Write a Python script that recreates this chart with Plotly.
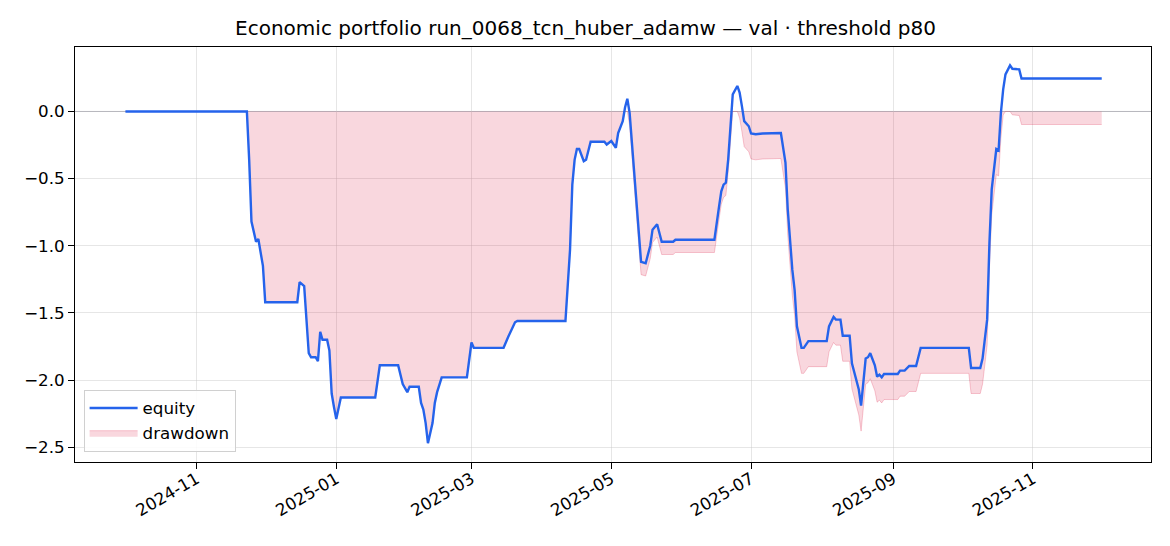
import numpy as np
import plotly.graph_objects as go

dates = [
    "2024-10-01", "2024-11-23", "2024-11-24", "2024-11-25", "2024-11-27", "2024-11-28",
    "2024-11-30", "2024-12-01", "2024-12-15", "2024-12-16", "2024-12-18", "2024-12-19",
    "2024-12-20", "2024-12-21", "2024-12-23", "2024-12-24", "2024-12-25", "2024-12-26",
    "2024-12-28", "2024-12-29", "2024-12-30", "2024-12-31", "2025-01-01", "2025-01-03",
    "2025-01-18", "2025-01-20", "2025-01-28", "2025-01-30", "2025-02-01", "2025-02-02",
    "2025-02-06", "2025-02-07", "2025-02-08", "2025-02-09", "2025-02-10", "2025-02-12",
    "2025-02-13", "2025-02-14", "2025-02-16", "2025-02-27", "2025-02-28", "2025-03-01",
    "2025-03-02", "2025-03-15", "2025-03-17", "2025-03-20", "2025-03-21", "2025-04-11",
    "2025-04-13", "2025-04-14", "2025-04-15", "2025-04-16", "2025-04-17", "2025-04-19",
    "2025-04-20", "2025-04-22", "2025-04-28", "2025-04-29", "2025-05-01", "2025-05-03",
    "2025-05-04", "2025-05-06", "2025-05-07", "2025-05-08", "2025-05-09", "2025-05-11",
    "2025-05-13", "2025-05-14", "2025-05-16", "2025-05-17", "2025-05-18", "2025-05-19",
    "2025-05-21", "2025-05-23", "2025-05-28", "2025-05-29", "2025-06-15", "2025-06-17",
    "2025-06-18", "2025-06-19", "2025-06-20", "2025-06-21", "2025-06-22", "2025-06-23",
    "2025-06-25", "2025-06-26", "2025-06-27", "2025-06-28", "2025-06-30", "2025-07-01",
    "2025-07-03", "2025-07-06", "2025-07-14", "2025-07-16", "2025-07-17", "2025-07-19",
    "2025-07-20", "2025-07-21", "2025-07-23", "2025-07-24", "2025-07-26", "2025-08-03",
    "2025-08-04", "2025-08-05", "2025-08-06", "2025-08-07", "2025-08-09", "2025-08-10",
    "2025-08-13", "2025-08-14", "2025-08-16", "2025-08-17", "2025-08-18", "2025-08-19",
    "2025-08-20", "2025-08-21", "2025-08-22", "2025-08-24", "2025-08-25", "2025-08-26",
    "2025-08-27", "2025-08-28", "2025-09-03", "2025-09-04", "2025-09-06", "2025-09-08",
    "2025-09-11", "2025-09-13", "2025-10-04", "2025-10-05", "2025-10-09", "2025-10-10",
    "2025-10-12", "2025-10-13", "2025-10-14", "2025-10-16", "2025-10-17", "2025-10-18",
    "2025-10-19", "2025-10-20", "2025-10-22", "2025-10-23", "2025-10-26", "2025-10-27",
    "2025-12-01",
]

equity = [
    0.0, 0.0, -0.36, -0.82, -0.97, -0.95,
    -1.15, -1.42, -1.42, -1.27, -1.30, -1.54,
    -1.80, -1.83, -1.83, -1.86, -1.64, -1.70,
    -1.70, -1.78, -2.10, -2.20, -2.29, -2.13,
    -2.13, -1.89, -1.89, -2.03, -2.09, -2.05,
    -2.05, -2.17, -2.22, -2.32, -2.47, -2.32,
    -2.17, -2.09, -1.98, -1.98, -1.83, -1.72,
    -1.76, -1.76, -1.68, -1.57, -1.56, -1.56,
    -1.03, -0.545, -0.36, -0.28, -0.28, -0.37,
    -0.36, -0.226, -0.226, -0.246, -0.22, -0.27,
    -0.16, -0.072, 0.03, 0.095, -0.01, -0.43,
    -0.905, -1.12, -1.13, -1.07, -1.00, -0.88,
    -0.84, -0.97, -0.97, -0.955, -0.955, -0.71,
    -0.595, -0.545, -0.53, -0.36, -0.12, 0.127,
    0.19, 0.14, 0.04, -0.072, -0.11, -0.164,
    -0.17, -0.164, -0.16, -0.38, -0.73, -1.18,
    -1.33, -1.60, -1.76, -1.76, -1.71, -1.71,
    -1.60, -1.565, -1.53, -1.55, -1.55, -1.67,
    -1.67, -1.875, -2.02, -2.07, -2.19, -2.00,
    -1.84, -1.83, -1.80, -1.89, -1.975, -1.96,
    -1.98, -1.955, -1.955, -1.93, -1.93, -1.895,
    -1.895, -1.76, -1.76, -1.91, -1.91, -1.84,
    -1.55, -0.98, -0.58, -0.28, -0.29, -0.01,
    0.164, 0.276, 0.343, 0.318, 0.313, 0.246,
    0.246,
]

x_tick_vals = ["2024-11-01", "2025-01-01", "2025-03-01", "2025-05-01",
               "2025-07-01", "2025-09-01", "2025-11-01"]
x_tick_text = ["2024-11", "2025-01", "2025-03", "2025-05", "2025-07", "2025-09", "2025-11"]
y_tick_vals = [0.0, -0.5, -1.0, -1.5, -2.0, -2.5]

title_text = "Economic portfolio run_0068_tcn_huber_adamw — val · threshold p80"

eq = np.array(equity)
drawdown = eq - np.maximum.accumulate(eq)

fig = go.Figure()

fig.add_trace(go.Scatter(
    x=dates, y=drawdown, mode="lines", name="drawdown",
    fill="tozeroy", fillcolor="rgba(220,20,60,0.17)",
    line=dict(color="rgba(220,20,60,0.22)", width=1),
))
fig.add_trace(go.Scatter(
    x=dates, y=equity, mode="lines", name="equity",
    line=dict(color="#2563eb", width=2.4),
))

fig.add_shape(type="line", xref="paper", x0=0, x1=1, yref="y", y0=0, y1=0,
              line=dict(color="rgba(110,110,130,0.6)", width=1), layer="below")

fig.update_layout(
    width=1162, height=538,
    margin=dict(l=67, r=19, t=39, b=84),
    paper_bgcolor="white", plot_bgcolor="white",
    font=dict(family="DejaVu Sans", size=16.7, color="black"),
    title=dict(text=title_text, x=0.497, xanchor="center", y=0.963, yanchor="middle",
               font=dict(size=20, color="black")),
    showlegend=True,
    legend=dict(x=0.008, y=0.025, xanchor="left", yanchor="bottom",
                bgcolor="rgba(255,255,255,0.85)", bordercolor="#d0d0d0", borderwidth=1,
                font=dict(size=16.7), traceorder="reversed", itemwidth=48),
)

fig.update_xaxes(
    type="date", range=["2024-09-09", "2025-12-22 12:00"],
    tickvals=x_tick_vals, ticktext=x_tick_text, tickangle=-30,
    showgrid=True, gridcolor="rgba(200,200,200,0.45)", gridwidth=1,
    showline=True, linecolor="black", linewidth=1, mirror=True,
    ticks="outside", ticklen=6, tickcolor="black", zeroline=False,
    tickfont=dict(size=16.7), ticklabelstandoff=-6,
)
fig.update_yaxes(
    range=[-2.61, 0.48], tickvals=y_tick_vals, tickformat=".1f",
    showgrid=True, gridcolor="rgba(200,200,200,0.45)", gridwidth=1,
    showline=True, linecolor="black", linewidth=1, mirror=True,
    ticks="outside", ticklen=6, tickcolor="black", zeroline=False,
    tickfont=dict(size=16.7),
)

fig.write_html("out.html")
